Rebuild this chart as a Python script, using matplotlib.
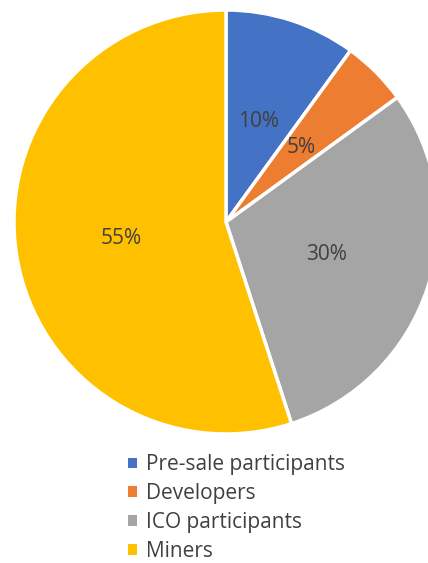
import matplotlib.pyplot as plt
from matplotlib.patches import Patch

labels = ['Pre-sale participants', 'Developers', 'ICO participants', 'Miners']
shares = [10, 5, 30, 55]
colors = ['#4472C4', '#ED7D31', '#A5A5A5', '#FFC000']

plt.rcParams['font.family'] = ['Open Sans', 'DejaVu Sans']

fig = plt.figure(figsize=(4.28, 5.63), dpi=100)
# pie area: centre about (226, 222) px, radius about 212 px
ax = fig.add_axes([14 / 428, (563 - 434) / 563, 424 / 428, 424 / 563])

wedges, texts = ax.pie(shares, colors=colors, startangle=90, counterclock=False,
                       labels=[f'{s}%' for s in shares], labeldistance=0.5,
                       wedgeprops=dict(edgecolor='white', linewidth=2.5),
                       textprops=dict(color='#404040', fontsize=15))
for t in texts:
    t.set_ha('center')
    t.set_va('center')
ax.set_xlim(-1, 1)
ax.set_ylim(-1, 1)
ax.set_aspect('auto')

handles = [Patch(facecolor=c, edgecolor='none') for c in colors]
fig.legend(handles, labels, loc='upper left', bbox_to_anchor=(120 / 428, 1 - 446 / 563),
           frameon=False, fontsize=15, handlelength=0.42, handleheight=0.42,
           handletextpad=0.45, labelspacing=0.38, labelcolor='#404040', borderaxespad=0)

fig.savefig('out.png', dpi=100)
